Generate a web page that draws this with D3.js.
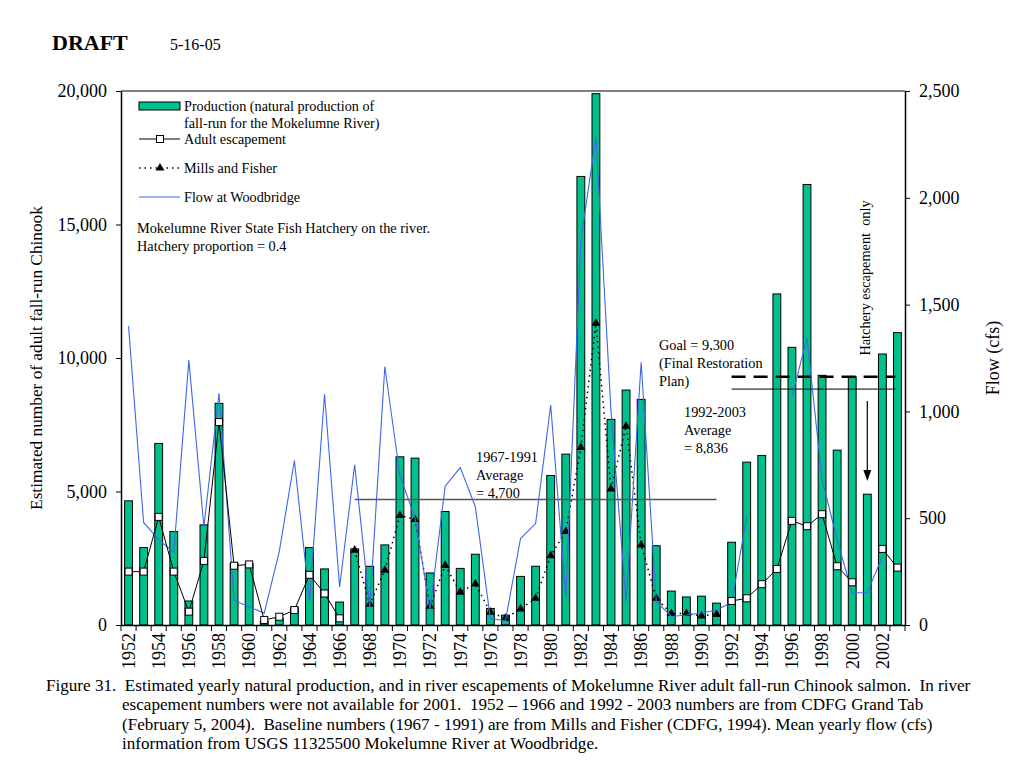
<!DOCTYPE html>
<html>
<head>
<meta charset="utf-8">
<style>
body { margin: 0; background: #fff; }
svg { font-family: "Liberation Serif", "Times New Roman", serif; }
svg text { white-space: pre; }
.axis .domain { stroke: #000; stroke-width: 1.5; }
.axis line { stroke: #000; }
.axis text { font-family: "Liberation Serif", serif; font-size: 18px; fill: #000; }
</style>
</head>
<body>
<svg width="1024" height="768"></svg>
<script src="https://cdnjs.cloudflare.com/ajax/libs/d3/7.8.5/d3.min.js"></script>
<script>

var years = d3.range(1952, 2004);

// natural production (bars, left axis)
var production = [4650, 2900, 6800, 3500, 900, 3750, 8300, 2300, 2300, 150,
  260, 650, 2900, 2100, 860, 2850, 2200, 3000, 6300, 6250,
  1950, 4250, 2120, 2650, 620, 370, 1820, 2200, 5600, 6400,
  16800, 19900, 7700, 8800, 8450, 2970, 1270, 1050, 1080, 820,
  3100, 6100, 6350, 12400, 10400, 16500, 9350, 6550, 9300, 4900,
  10150, 10950];

// in river adult escapement (1952-1966, 1992-2003, none for 2001)
var escapement = [2000, 2000, 4050, 2000, 500, 2400, 7600, 2220, 2270, 190,
  310, 560, 1880, 1180, 250, null, null, null, null, null,
  null, null, null, null, null, null, null, null, null, null,
  null, null, null, null, null, null, null, null, null, null,
  900, 1000, 1530, 2100, 3900, 3700, 4150, 2200, 1600, null,
  2850, 2150];

// Mills and Fisher baseline 1967-1991
var millsFisher = [null, null, null, null, null, null, null, null, null, null,
  null, null, null, null, null, 2800, 780, 2050, 4100, 3950,
  700, 2230, 1230, 1540, 480, 250, 600, 1000, 2600, 3500,
  6650, 11300, 5100, 7450, 3000, 1000, 430, 430, 340, 400,
  null, null, null, null, null, null, null, null, null, null,
  null, null];

// mean yearly flow at Woodbridge, cfs (right axis)
var flow = [1400, 480, 400, 340, 1240, 460, 1085, 115, 85, 55,
  345, 770, 115, 1080, 178, 750, 85, 1210, 700, 500,
  75, 650, 737, 555, 30, 20, 405, 475, 1030, 130,
  1800, 2285, 1000, 110, 1230, 110, 40, 47, 56, 70,
  105, 505, null, null, 1070, 1343, 680, 400, 150, 152,
  320, null];

var leftTicks = [0, 5000, 10000, 15000, 20000];
var rightTicks = [0, 500, 1000, 1500, 2000, 2500];

var svg = d3.select("svg"),
    plotL = 121, plotR = 905, plotT = 91, plotB = 625;

var x = d3.scaleBand().domain(years).range([plotL, plotR]);
var yL = d3.scaleLinear().domain([0, 20000]).range([plotB, plotT]);
var yR = d3.scaleLinear().domain([0, 2500]).range([plotB, plotT]);
var cx = function(yr) { return x(yr) + x.bandwidth() / 2; };
var barW = x.bandwidth() * 0.52;

var rows = years.map(function(yr, i) {
  return {year: yr, prod: production[i], esc: escapement[i], mf: millsFisher[i], flow: flow[i]};
});

// title
svg.append("text").attr("x", 52).attr("y", 50).attr("font-size", 22).attr("font-weight", "bold").text("DRAFT");
svg.append("text").attr("x", 170).attr("y", 50).attr("font-size", 16).text("5-16-05");

// top border
svg.append("line").attr("x1", plotL).attr("x2", plotR).attr("y1", plotT).attr("y2", plotT)
  .attr("stroke", "#555").attr("stroke-width", 1.5);

// bars
svg.append("g").selectAll("rect")
  .data(rows)
  .enter().append("rect")
    .attr("x", function(d) { return cx(d.year) - barW / 2; })
    .attr("y", function(d) { return yL(d.prod); })
    .attr("width", barW)
    .attr("height", function(d) { return plotB - yL(d.prod); })
    .attr("fill", "#00c08e")
    .attr("stroke", "#000")
    .attr("stroke-width", 1);

// average lines
var avg1 = 4700, avg2 = 8836, goal = 9300;
svg.append("line").attr("x1", cx(1967)).attr("x2", cx(1991)).attr("y1", yL(avg1)).attr("y2", yL(avg1))
  .attr("stroke", "#555").attr("stroke-width", 1.5);
svg.append("line").attr("x1", cx(1992)).attr("x2", cx(2003) - 2).attr("y1", yL(avg2)).attr("y2", yL(avg2))
  .attr("stroke", "#000").attr("stroke-width", 1);
svg.append("line").attr("x1", cx(1992)).attr("x2", cx(2003) - 2).attr("y1", yL(goal)).attr("y2", yL(goal))
  .attr("stroke", "#000").attr("stroke-width", 2.5).attr("stroke-dasharray", "14,8");

// Mills and Fisher
svg.append("path")
  .datum(rows)
  .attr("fill", "none").attr("stroke", "#000").attr("stroke-width", 1.5).attr("stroke-dasharray", "1.5,4")
  .attr("d", d3.line().defined(function(d) { return d.mf != null; })
    .x(function(d) { return cx(d.year); }).y(function(d) { return yL(d.mf); }));
svg.append("g").selectAll("path")
  .data(rows.filter(function(d) { return d.mf != null; }))
  .enter().append("path")
    .attr("d", d3.symbol().type(d3.symbolTriangle).size(34))
    .attr("transform", function(d) { return "translate(" + cx(d.year) + "," + yL(d.mf) + ")"; })
    .attr("fill", "#000");

// flow
svg.append("path")
  .datum(rows)
  .attr("fill", "none").attr("stroke", "#3f68e8").attr("stroke-width", 1.1)
  .attr("d", d3.line().defined(function(d) { return d.flow != null; })
    .x(function(d) { return cx(d.year); }).y(function(d) { return yR(d.flow); }));

// adult escapement
svg.append("path")
  .datum(rows)
  .attr("fill", "none").attr("stroke", "#000").attr("stroke-width", 1)
  .attr("d", d3.line().defined(function(d) { return d.esc != null; })
    .x(function(d) { return cx(d.year); }).y(function(d) { return yL(d.esc); }));
svg.append("g").selectAll("rect")
  .data(rows.filter(function(d) { return d.esc != null; }))
  .enter().append("rect")
    .attr("x", function(d) { return cx(d.year) - 3.5; })
    .attr("y", function(d) { return yL(d.esc) - 3.5; })
    .attr("width", 7).attr("height", 7)
    .attr("fill", "#fff").attr("stroke", "#000").attr("stroke-width", 1);

// axes
svg.append("g").attr("class", "axis")
  .attr("transform", "translate(" + plotL + ",0)")
  .call(d3.axisLeft(yL).tickValues(leftTicks).tickFormat(d3.format(",")).tickSizeInner(5).tickSizeOuter(0).tickPadding(9));

svg.append("g").attr("class", "axis")
  .attr("transform", "translate(" + plotR + ",0)")
  .call(d3.axisRight(yR).tickValues(rightTicks).tickFormat(d3.format(",")).tickSizeInner(5).tickSizeOuter(0).tickPadding(9));

var xAxis = svg.append("g").attr("class", "axis")
  .attr("transform", "translate(0," + plotB + ")")
  .call(d3.axisBottom(x).tickSizeInner(6).tickSizeOuter(0)
    .tickFormat(function(d) { return d % 2 === 0 ? d : ""; }));
xAxis.selectAll(".tick line").attr("transform", "translate(" + (-x.bandwidth() / 2) + ",0)");
xAxis.append("line").attr("x1", plotR).attr("x2", plotR).attr("y1", 0).attr("y2", 6).attr("stroke", "#000");
xAxis.selectAll(".tick text")
  .attr("font-size", 18.5)
  .attr("transform", "rotate(-90)")
  .attr("text-anchor", "end")
  .attr("x", -8).attr("y", 0).attr("dy", "0.35em");

// axis titles
svg.append("text").attr("transform", "translate(42,358) rotate(-90)")
  .attr("text-anchor", "middle").attr("font-size", 17.3)
  .text("Estimated number of adult fall-run Chinook");
svg.append("text").attr("transform", "translate(999,358) rotate(-90)")
  .attr("text-anchor", "middle").attr("font-size", 18)
  .text("Flow (cfs)");

// legend
var lg = svg.append("g").attr("font-size", 14.2);
lg.append("rect").attr("x", 139).attr("y", 102).attr("width", 41).attr("height", 8)
  .attr("fill", "#00c08e").attr("stroke", "#000");
lg.append("text").attr("x", 184).attr("y", 111).text("Production (natural production of");
lg.append("text").attr("x", 184).attr("y", 128).text("fall-run for the Mokelumne River)");
lg.append("line").attr("x1", 139).attr("x2", 180).attr("y1", 139).attr("y2", 139).attr("stroke", "#000");
lg.append("rect").attr("x", 156.5).attr("y", 135.5).attr("width", 7).attr("height", 7)
  .attr("fill", "#fff").attr("stroke", "#000");
lg.append("text").attr("x", 184).attr("y", 144).text("Adult escapement");
lg.append("line").attr("x1", 139).attr("x2", 180).attr("y1", 168).attr("y2", 168)
  .attr("stroke", "#000").attr("stroke-width", 1.5).attr("stroke-dasharray", "1.5,4");
lg.append("path").attr("d", d3.symbol().type(d3.symbolTriangle).size(34))
  .attr("transform", "translate(160,168)").attr("fill", "#000");
lg.append("text").attr("x", 184).attr("y", 173).text("Mills and Fisher");
lg.append("line").attr("x1", 139).attr("x2", 180).attr("y1", 197).attr("y2", 197)
  .attr("stroke", "#3f68e8").attr("stroke-width", 1.1);
lg.append("text").attr("x", 184).attr("y", 202).text("Flow at Woodbridge");

// annotations
var note = function(xp, yp, lines) {
  var t = svg.append("text").attr("font-size", 14.3);
  lines.forEach(function(s, i) {
    t.append("tspan").attr("x", xp).attr("y", yp + i * 18).text(s);
  });
};
note(137, 233, ["Mokelumne River State Fish Hatchery on the river.", "Hatchery proportion = 0.4"]);
note(476, 462, ["1967-1991", "Average", "= 4,700"]);
note(659, 350, ["Goal = 9,300", "(Final Restoration", "Plan)"]);
note(684, 417, ["1992-2003", "Average", "= 8,836"]);

svg.append("text").attr("transform", "translate(870,278) rotate(-90)")
  .attr("text-anchor", "middle").attr("font-size", 14.3)
  .text("Hatchery escapement  only");

// arrow to 2001
var ax = cx(2001);
svg.append("line").attr("x1", ax).attr("x2", ax).attr("y1", 401).attr("y2", 472)
  .attr("stroke", "#000").attr("stroke-width", 1.2);
svg.append("path").attr("d", "M" + (ax - 4) + ",470L" + (ax + 4) + ",470L" + ax + ",481Z").attr("fill", "#000");

// caption
var cap = svg.append("text").attr("font-size", 17.1);
cap.append("tspan").attr("x", 46).attr("y", 691)
  .text("Figure 31.  Estimated yearly natural production, and in river escapements of Mokelumne River adult fall-run Chinook salmon.  In river");
cap.append("tspan").attr("x", 122).attr("y", 710)
  .text("escapement numbers were not available for 2001.  1952 \u2013 1966 and 1992 - 2003 numbers are from CDFG Grand Tab");
cap.append("tspan").attr("x", 122).attr("y", 730)
  .text("(February 5, 2004).  Baseline numbers (1967 - 1991) are from Mills and Fisher (CDFG, 1994). Mean yearly flow (cfs)");
cap.append("tspan").attr("x", 122).attr("y", 749)
  .text("information from USGS 11325500 Mokelumne River at Woodbridge.");

</script>
</body>
</html>
